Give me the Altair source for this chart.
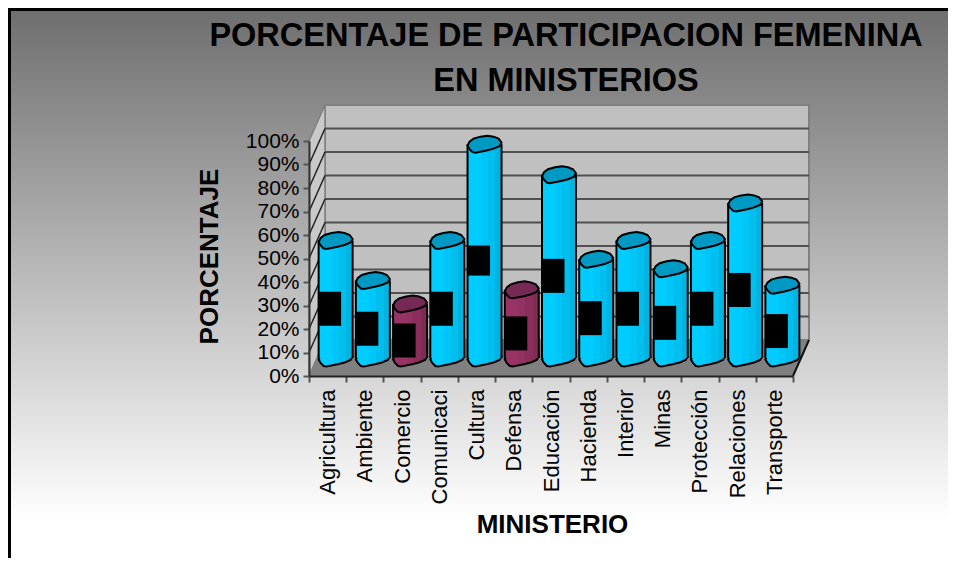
import altair as alt
import pandas as pd

categories = ["Agricultura", "Ambiente", "Comercio", "Comunicaci", "Cultura", "Defensa", "Educación",
              "Hacienda", "Interior", "Minas", "Protección", "Relaciones", "Transporte"]
values = [50, 33, 23, 50, 91, 29, 78, 42, 50, 38, 50, 66, 31]
groups = ["a", "a", "b", "a", "a", "b", "a", "a", "a", "a", "a", "a", "a"]
label_heights = [34, 34, 34, 34, 30, 34, 34, 34, 34, 34, 34, 34, 34]
y_ticks = [0, 10, 20, 30, 40, 50, 60, 70, 80, 90, 100]
title_lines = ["PORCENTAJE DE PARTICIPACION FEMENINA", "EN MINISTERIOS"]
FONT = "Liberation Sans"

W, H = 484, 235          # front plane of the 3D plot
DX, DY = 16, 36          # depth of the 3D box, pixels
DPCT = DY / H * 100      # same depth, in percent units
L, T = 301, 133          # plot origin inside the chart
CW, CH = 940, 550        # whole chart

df = pd.DataFrame({"cat": categories, "val": values, "grp": groups, "lh": label_heights})
df["half"] = df["val"] / 2
df["lab_lo"] = df["half"] - df["lh"] / 2 * 100 / H
df["lab_hi"] = df["half"] + df["lh"] / 2 * 100 / H
df["zero"] = 0
grid = pd.DataFrame({"p": y_ticks})
grid["p2"] = grid["p"] + DPCT

yscale = alt.Scale(domain=[0, 100], nice=False, zero=False)
xband = alt.Scale(domain=categories, paddingInner=0, paddingOuter=0)
xpx = alt.Scale(domain=[0, W], nice=False, zero=False)

Y_AXIS = alt.Axis(
    title="PORCENTAJE", titleFont=FONT, titleFontSize=26, titleFontWeight="bold", titleColor="#000000",
    titleX=-100, titleY=115, titleAngle=-90, titleAlign="center", titleBaseline="middle",
    values=y_ticks, labelExpr="datum.value + '%'", grid=False,
    labelFont=FONT, labelFontSize=21, labelColor="#000000", labelPadding=4, labelOverlap=False,
    labelFlush=False, domainColor="#333333", domainWidth=2, tickColor="#555555", tickSize=6, tickWidth=2,
    zindex=2)


def Yq(field):
    return alt.Y(field, scale=yscale, axis=Y_AXIS)


def hgrad(stops):
    return alt.Gradient(gradient="linear", x1=0, x2=1, y1=0, y2=0,
                        stops=[alt.GradientStop(offset=o, color=c) for o, c in stops])


def steps(colors, cuts):
    out = []
    lo = 0.0
    for c, hi in zip(colors, cuts):
        out += [(lo, c), (hi, c)]
        lo = hi
    return out


ELLIPSE = "M-17,1.5 L-15,-2.5 L-11,-5.5 L-4,-7.5 L3,-8.5 L9,-7.5 L14,-5.5 L17,-1.5 L15,2 L9,4.5 L2,6.3 L-9,8.5 L-12,8 L-15,5 Z"

styles = {
    "a": dict(top="#0099c4", body=hgrad(steps(["#00ccff", "#00c6f8", "#00beee", "#00b4e2"], [0.4, 0.6, 0.82, 1.0]))),
    "b": dict(top="#772955", body=hgrad(steps(["#993366", "#933162", "#8a2e5c", "#802a56"], [0.4, 0.6, 0.82, 1.0]))),
}

one = pd.DataFrame({"z": [0]})

# background, border
bg = alt.Chart(one).mark_rect(
    fill=alt.Gradient(gradient="linear", x1=0, x2=0, y1=0, y2=1, stops=[
        alt.GradientStop(offset=0, color="#6e6e6e"),
        alt.GradientStop(offset=0.93, color="#ffffff"),
        alt.GradientStop(offset=1, color="#ffffff")])
).encode(x=alt.value(-L), x2=alt.value(CW - L), y=alt.value(-T), y2=alt.value(CH - T))

border = alt.Chart(one).mark_rule(color="#000000", strokeWidth=3).encode(
    x=alt.value(-L + 1.5), x2=alt.value(-L + 1.5), y=alt.value(-T), y2=alt.value(CH - T))
border_top = alt.Chart(one).mark_rule(color="#000000", strokeWidth=3).encode(
    x=alt.value(-L), x2=alt.value(CW - L), y=alt.value(-T + 1.5), y2=alt.value(-T + 1.5))

# walls and floor
back = alt.Chart(one).mark_rect(fill="#c0c0c0", stroke="#808080", strokeWidth=2).encode(
    x=alt.value(DX), x2=alt.value(W + DX), y=alt.value(-DY), y2=alt.value(H - DY))

left_df = pd.DataFrame({"px": [0, DX], "lo": [0, DPCT], "hi": [100, 100 + DPCT]})
left = alt.Chart(left_df).mark_area(orient="vertical", fill="#c9c9c9", stroke="#808080", strokeWidth=1.5).encode(
    x=alt.X("px:Q", scale=xpx, axis=None),
    y=Yq("lo:Q"), y2="hi:Q")

floor_df = pd.DataFrame({"d": [0, DPCT], "x1": [0, DX], "x2": [W, W + DX]})
floor = alt.Chart(floor_df).mark_area(orient="horizontal", fill="#808080", stroke="#808080", strokeWidth=1).encode(
    y=Yq("d:Q"),
    x=alt.X("x1:Q", scale=xpx, axis=None), x2="x2:Q")

inner = grid[(grid.p > 0) & (grid.p < 100)]
grid_back = alt.Chart(inner).mark_rule(
    color="#505050", strokeWidth=2
).encode(x=alt.value(DX), x2=alt.value(W + DX), y=alt.Y("p2:Q", scale=yscale, axis=Y_AXIS))

grid_side = alt.Chart(inner).mark_rule(
    color="#222222", strokeWidth=1.5
).encode(x=alt.value(0), x2=alt.value(DX), y=Yq("p:Q"), y2="p2:Q")

right_edge = alt.Chart(pd.DataFrame({"a": [0.0], "b": [DPCT]})).mark_rule(color="#111111", strokeWidth=2).encode(
    x=alt.value(W), x2=alt.value(W + DX), y=Yq("a:Q"), y2="b:Q")

# real axes, on top of background
axes = alt.Chart(df).mark_bar(opacity=0).encode(
    x=alt.X("cat:N", scale=xband, sort=None, axis=alt.Axis(
        title="MINISTERIO", titleFont=FONT, titleFontSize=26, titleFontWeight="bold", titleColor="#000000",
        titleX=243, titleY=148, titleAnchor="middle", titleBaseline="middle",
        labelFont=FONT, labelFontSize=22, labelColor="#000000", labelAngle=-90, labelAlign="right",
        labelBaseline="middle", labelPadding=7, labelLimit=0, labelOverlap=False, labelFlush=False,
        domainColor="#222222", domainWidth=2, tickColor="#555555", tickSize=6, tickWidth=2,
        tickBand="extent", zindex=2)),
    y=Yq("val:Q"))

xb = alt.X("cat:N", scale=xband, sort=None, axis=None)
yv = Yq("val:Q")
cx, cy = DX / 2, -DY / 2

cyl_layers = []
for g, st in styles.items():
    d = df[df.grp == g]
    base = alt.Chart(d)
    cyl_layers += [
        base.mark_point(shape=ELLIPSE, size=4, filled=True, fill=st["body"], stroke="#000000",
                        strokeWidth=2, opacity=1, xOffset=cx, yOffset=cy).encode(x=xb, y=Yq("zero:Q")),
        base.mark_bar(width=34, fill=st["body"], xOffset=cx, yOffset=cy, y2Offset=cy).encode(x=xb, y=yv, y2="zero:Q"),
        base.mark_rule(color="#000000", strokeWidth=2, xOffset=cx - 17, yOffset=cy, y2Offset=cy).encode(x=xb, y=yv, y2="zero:Q"),
        base.mark_rule(color="#000000", strokeWidth=2, xOffset=cx + 17, yOffset=cy, y2Offset=cy).encode(x=xb, y=yv, y2="zero:Q"),
        base.mark_point(shape=ELLIPSE, size=4, filled=True, fill=st["top"], stroke="#000000",
                        strokeWidth=2, opacity=1, xOffset=cx, yOffset=cy).encode(x=xb, y=yv),
    ]

labels = alt.Chart(df).mark_bar(width=22, color="#000000", xOffset=2.5, yOffset=-8.5, y2Offset=-8.5).encode(
    x=xb, y=Yq("lab_hi:Q"), y2="lab_lo:Q")

title1 = alt.Chart(pd.DataFrame({"t": [title_lines[0]]})).mark_text(
    font=FONT, fontSize=32.5, fontWeight="bold", color="#000000", align="center", baseline="middle"
).encode(text="t:N", x=alt.value(257), y=alt.value(-105))
title2 = alt.Chart(pd.DataFrame({"t": [title_lines[1]]})).mark_text(
    font=FONT, fontSize=32.5, fontWeight="bold", color="#000000", align="center", baseline="middle"
).encode(text="t:N", x=alt.value(257), y=alt.value(-60))

chart = alt.layer(
    bg, back, left, floor, grid_back, grid_side, right_edge, axes, *cyl_layers, labels, title1, title2, border, border_top
).resolve_scale(x="independent").properties(
    width=W, height=H,
    autosize=alt.AutoSizeParams(type="none"),
    padding={"left": L, "top": T, "right": CW - L - W, "bottom": CH - T - H},
).configure_view(stroke=None, clip=False)

chart.save("out.html", embed_options={"renderer": "svg", "actions": False})
